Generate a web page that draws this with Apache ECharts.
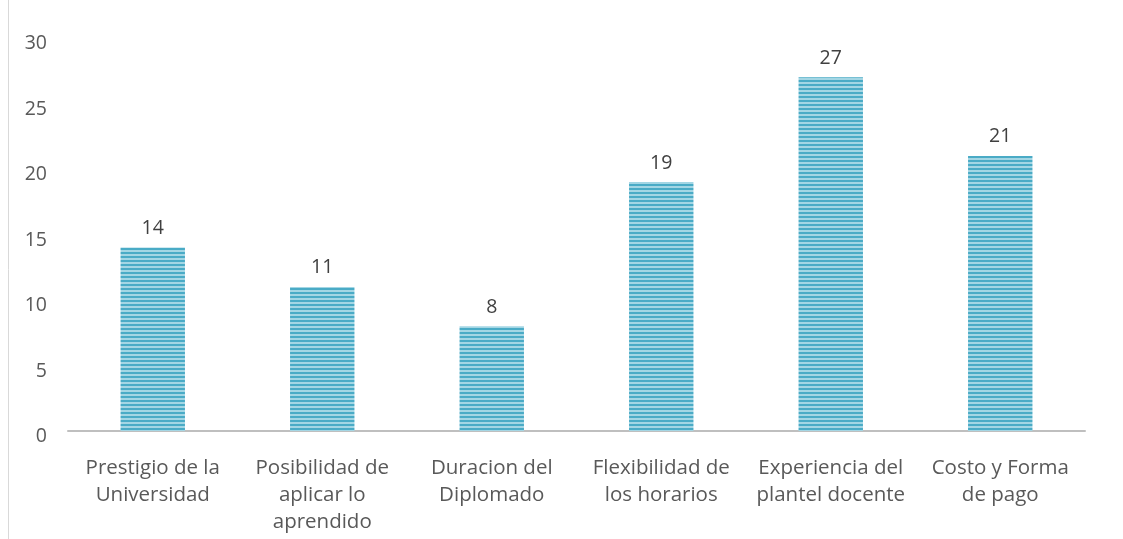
<!DOCTYPE html>
<html><head><meta charset="utf-8">
<script src="https://cdn.jsdelivr.net/npm/echarts@6/dist/echarts.min.js"></script>
<style>html,body{margin:0;padding:0;background:#fff}#c{width:1123px;height:539px}</style>
</head><body><div id="c"></div>
<script>
const categories = ['Prestigio de la\nUniversidad','Posibilidad de\naplicar lo\naprendido','Duracion del\nDiplomado','Flexibilidad de\nlos horarios','Experiencia del\nplantel docente','Costo y Forma\nde pago'];
const values = [14, 11, 8, 19, 27, 21];
const yTicks = {min: 0, max: 30, interval: 5};

const pc = document.createElement('canvas');
pc.width = 4; pc.height = 4;
const g = pc.getContext('2d');
g.fillStyle = '#a3d6e4'; g.fillRect(0,0,4,4);
g.fillStyle = '#4aabc6'; g.fillRect(0,0,4,2);

const chart = echarts.init(document.getElementById('c'));
chart.setOption({
  animation: false,
  grid: {left: 68, right: 38, top: 38, bottom: 108},
  graphic: [{type:'line', shape:{x1:8.5,y1:0,x2:8.5,y2:539}, style:{stroke:'#d9d9d9', lineWidth:1}}],
  xAxis: {
    type: 'category', data: categories,
    axisLine: {lineStyle: {color: '#bfbfbf', width: 2}},
    axisTick: {show: false},
    axisLabel: {color: '#595959', fontSize: 20.5, fontFamily: 'Open Sans', lineHeight: 27, margin: 24, interval: 0}
  },
  yAxis: {
    type: 'value', min: yTicks.min, max: yTicks.max, interval: yTicks.interval,
    axisLine: {show: false}, axisTick: {show: false},
    splitLine: {show: false},
    axisLabel: {color: '#595959', fontSize: 19.5, fontFamily: 'Open Sans', margin: 21, verticalAlign: 'top', lineHeight: 11}
  },
  series: [{
    type: 'bar', data: values, barWidth: '38%',
    itemStyle: {color: {image: pc, repeat: 'repeat'}},
    label: {show: true, position: 'top', color: '#404040', fontSize: 19.5, fontFamily: 'Open Sans', distance: 9}
  }]
});
</script></body></html>
